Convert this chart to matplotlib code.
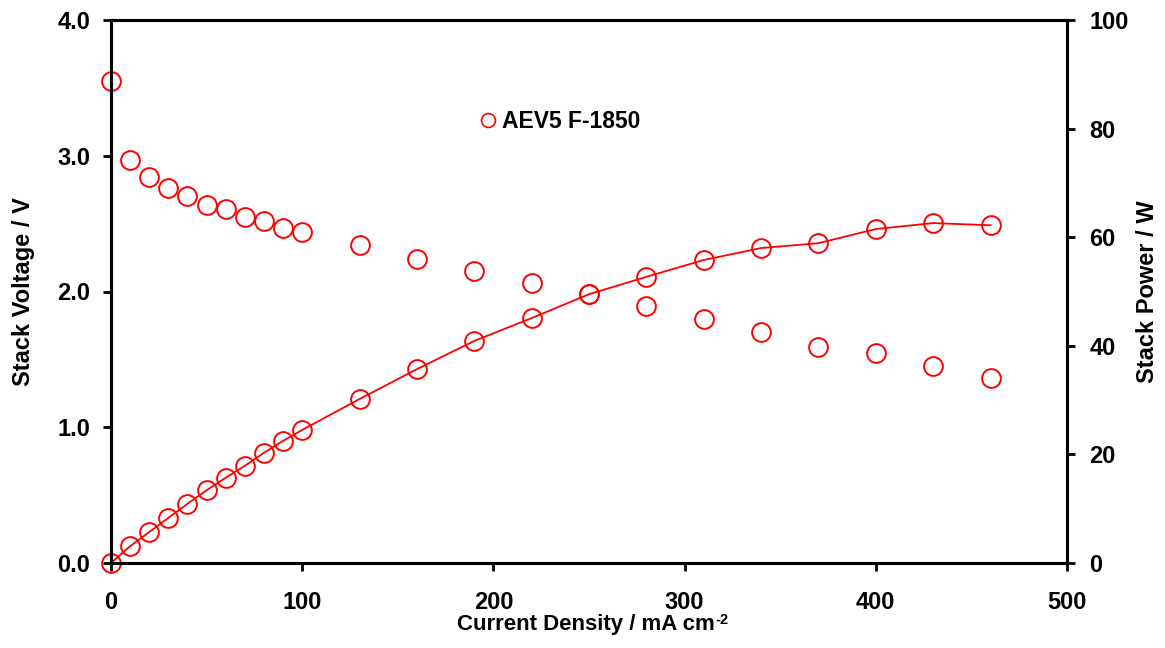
import matplotlib
matplotlib.use("Agg")
import matplotlib.pyplot as plt
from matplotlib.lines import Line2D

plt.rcParams['font.family'] = ['Liberation Sans', 'DejaVu Sans']
plt.rcParams['font.weight'] = 'bold'

current = [0, 10, 20, 30, 40, 50, 60, 70, 80, 90, 100, 130, 160, 190, 220, 250,
           280, 310, 340, 370, 400, 430, 460]
voltage = [3.55, 2.97, 2.84, 2.76, 2.70, 2.64, 2.61, 2.55, 2.52, 2.47, 2.44, 2.34,
           2.24, 2.15, 2.06, 1.98, 1.89, 1.80, 1.70, 1.59, 1.55, 1.45, 1.36]
power = [0.0, 3.1, 5.7, 8.3, 10.9, 13.4, 15.7, 17.9, 20.3, 22.5, 24.5, 30.2,
         35.7, 40.9, 45.1, 49.5, 52.7, 55.8, 58.0, 58.9, 61.5, 62.6, 62.2]
legend_label = "AEV5 F-1850"
x_ticks = [0, 100, 200, 300, 400, 500]
v_ticks = [0.0, 1.0, 2.0, 3.0, 4.0]
p_ticks = [0, 20, 40, 60, 80, 100]

W, H = 1165, 648
fig = plt.figure(figsize=(W / 100, H / 100), dpi=100)
ax = fig.add_axes([111 / W, 1 - 563 / H, 956 / W, 543 / H])
ax2 = ax.twinx()

red = '#ff0000'
ax.plot(current, voltage, linestyle='none', marker='o', markersize=13.5,
        markerfacecolor='none', markeredgecolor=red, markeredgewidth=1.4, clip_on=False)
ax2.plot(current, power, linestyle='-', color=red, linewidth=1.3, marker='o',
         markersize=13.5, markerfacecolor='none', markeredgecolor=red,
         markeredgewidth=1.4, clip_on=False)

ax.set_xlim(0, 500)
ax.set_ylim(0, 4.0)
ax2.set_ylim(0, 100)
ax.set_xticks(x_ticks)
ax.set_xticklabels([str(t) for t in x_ticks])
ax.set_yticks(v_ticks)
ax.set_yticklabels([f"{t:.1f}" for t in v_ticks])
ax2.set_yticks(p_ticks)
ax2.set_yticklabels([str(t) for t in p_ticks])

for a in (ax, ax2):
    for s in a.spines.values():
        s.set_linewidth(2.2)
    a.tick_params(width=2.0, length=6, labelsize=17, direction='out')
ax.tick_params(axis='x', pad=14)
ax.tick_params(axis='y', pad=9)
ax2.tick_params(axis='y', pad=10)

xl = ax.set_xlabel("Current Density / mA cm", fontsize=16, fontweight='bold', va='top')
ax.xaxis.set_label_coords((586 - 111) / 956, -(614 - 563) / 543)
ax.set_ylabel("Stack Voltage / V", fontsize=17, fontweight='bold', va='center')
ax.yaxis.set_label_coords((24 - 111) / 956, 0.5)
ax2.set_ylabel("Stack Power / W", fontsize=17, fontweight='bold', va='center')
ax2.yaxis.set_label_coords((1147 - 111) / 956, 0.5)

handle = Line2D([], [], linestyle='none', marker='o', markersize=10,
                markerfacecolor='none', markeredgecolor=red, markeredgewidth=1.2)
fig.legend([handle], [legend_label], loc='center left',
           bbox_to_anchor=(480 / W, 1 - 122 / H), frameon=False,
           handlelength=0.7, handletextpad=0.25, borderpad=0, borderaxespad=0,
           prop={'weight': 'bold', 'size': 16.5})

# superscript "-2" after the x label
fig.canvas.draw()
bb = xl.get_window_extent()
fig.text((bb.x1 + 1) / W, (bb.y1 + 1) / H, "-2", fontsize=10.5, fontweight='bold',
         ha='left', va='top')

fig.savefig("out.png", dpi=100)
